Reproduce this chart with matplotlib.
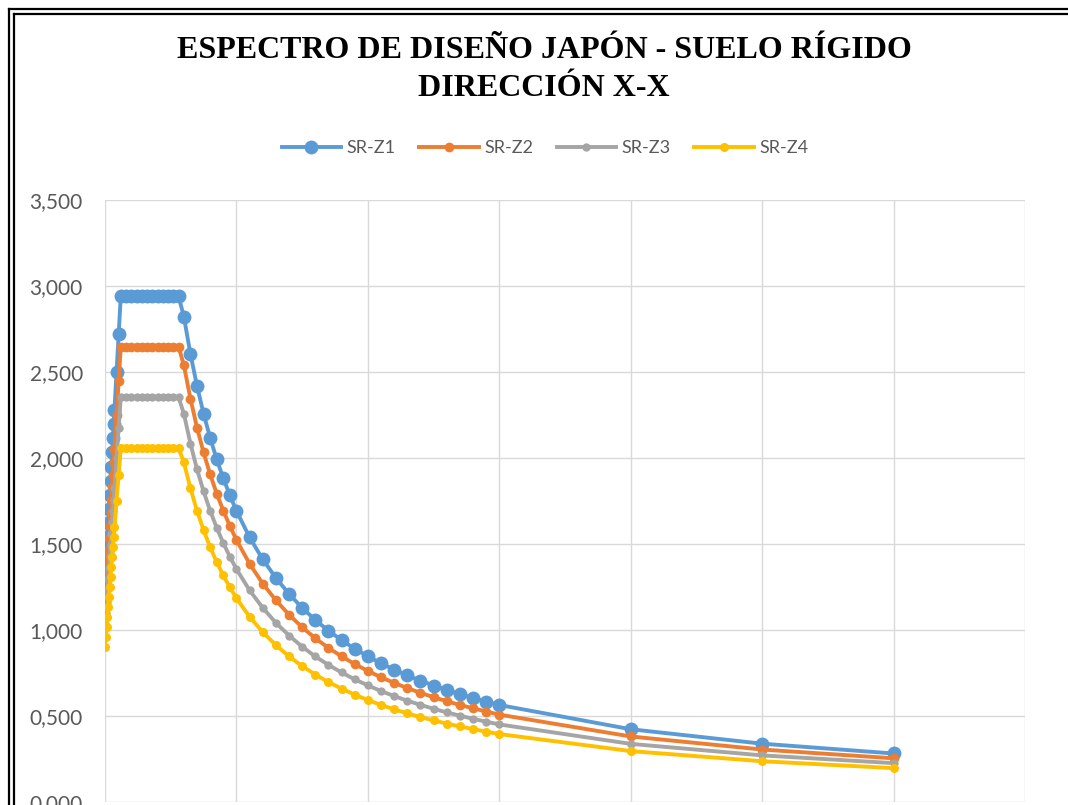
import matplotlib
matplotlib.use("Agg")
import matplotlib.pyplot as plt
from matplotlib.lines import Line2D
from matplotlib.ticker import FuncFormatter, MultipleLocator, NullFormatter

# Periodo T (s)
periodos = [
    0.000, 0.003, 0.006, 0.009, 0.012, 0.015, 0.018, 0.021, 0.024, 0.027,
    0.030, 0.033, 0.036, 0.044, 0.052, 0.060,
    0.080, 0.100, 0.120, 0.140, 0.160, 0.180, 0.200, 0.220, 0.240, 0.260, 0.280,
    0.300, 0.325, 0.350, 0.375, 0.400, 0.425, 0.450, 0.475, 0.500,
    0.550, 0.600, 0.650, 0.700, 0.750, 0.800, 0.850, 0.900, 0.950, 1.000,
    1.050, 1.100, 1.150, 1.200, 1.250, 1.300, 1.350, 1.400, 1.450, 1.500,
    2.000, 2.500, 3.000,
]

# Aceleracion espectral Sa (m/s2) por zona
sr_z1 = [
    1.290, 1.373, 1.455, 1.538, 1.620, 1.703, 1.785, 1.868, 1.950, 2.033,
    2.115, 2.198, 2.280, 2.500, 2.720, 2.940,
    2.940, 2.940, 2.940, 2.940, 2.940, 2.940, 2.940, 2.940, 2.940, 2.940, 2.940,
    2.822, 2.605, 2.419, 2.258, 2.117, 1.992, 1.882, 1.783, 1.693,
    1.539, 1.411, 1.303, 1.210, 1.129, 1.058, 0.996, 0.941, 0.891, 0.847,
    0.806, 0.770, 0.736, 0.706, 0.677, 0.651, 0.627, 0.605, 0.584, 0.564,
    0.423, 0.339, 0.282,
]
sr_z2 = [
    1.161, 1.236, 1.310, 1.384, 1.458, 1.533, 1.607, 1.681, 1.755, 1.830,
    1.904, 1.978, 2.052, 2.250, 2.448, 2.646,
    2.646, 2.646, 2.646, 2.646, 2.646, 2.646, 2.646, 2.646, 2.646, 2.646, 2.646,
    2.540, 2.345, 2.177, 2.032, 1.905, 1.793, 1.694, 1.605, 1.524,
    1.385, 1.270, 1.173, 1.089, 1.016, 0.952, 0.896, 0.847, 0.802, 0.762,
    0.725, 0.693, 0.662, 0.635, 0.609, 0.586, 0.564, 0.545, 0.526, 0.508,
    0.381, 0.305, 0.254,
]
sr_z3 = [
    1.032, 1.098, 1.164, 1.230, 1.296, 1.362, 1.428, 1.494, 1.560, 1.626,
    1.692, 1.758, 1.824, 2.000, 2.176, 2.352,
    2.352, 2.352, 2.352, 2.352, 2.352, 2.352, 2.352, 2.352, 2.352, 2.352, 2.352,
    2.258, 2.084, 1.935, 1.806, 1.694, 1.594, 1.506, 1.426, 1.354,
    1.231, 1.129, 1.042, 0.968, 0.903, 0.846, 0.797, 0.753, 0.713, 0.678,
    0.645, 0.616, 0.589, 0.565, 0.542, 0.521, 0.502, 0.484, 0.467, 0.451,
    0.338, 0.271, 0.226,
]
sr_z4 = [
    0.903, 0.961, 1.019, 1.077, 1.134, 1.192, 1.250, 1.308, 1.365, 1.423,
    1.481, 1.539, 1.596, 1.750, 1.904, 2.058,
    2.058, 2.058, 2.058, 2.058, 2.058, 2.058, 2.058, 2.058, 2.058, 2.058, 2.058,
    1.975, 1.824, 1.693, 1.581, 1.482, 1.394, 1.317, 1.248, 1.185,
    1.077, 0.988, 0.912, 0.847, 0.790, 0.741, 0.697, 0.659, 0.624, 0.593,
    0.564, 0.539, 0.515, 0.494, 0.474, 0.456, 0.439, 0.424, 0.409, 0.395,
    0.296, 0.237, 0.197,
]

series = [
    ("SR-Z1", sr_z1, "#5B9BD5", 10.0),
    ("SR-Z2", sr_z2, "#ED7D31", 7.0),
    ("SR-Z3", sr_z3, "#A5A5A5", 6.0),
    ("SR-Z4", sr_z4, "#FFC000", 6.5),
]

W, H = 1068, 805
fig = plt.figure(figsize=(W / 100, H / 100), dpi=100)
fig.patch.set_facecolor("white")

# Plot area in pixel coordinates
left, right, top, bottom = 105, 1025, 200, 802
ax = fig.add_axes([left / W, 1 - bottom / H, (right - left) / W, (bottom - top) / H])

for name, vals, color, ms in series:
    ax.plot(periodos, vals, color=color, lw=2.8, marker="o", ms=ms,
            markeredgewidth=0, label=name, solid_joinstyle="round")

ax.set_xlim(0, 3.5)
ax.set_ylim(0, 3.5)
ax.xaxis.set_major_locator(MultipleLocator(0.5))
ax.yaxis.set_major_locator(MultipleLocator(0.5))
ax.grid(True, color="#D9D9D9", lw=1.0)
ax.set_axisbelow(True)
for s in ax.spines.values():
    s.set_visible(False)
ax.tick_params(length=0, labelsize=15, colors="#595959", pad=16)
ax.yaxis.set_major_formatter(FuncFormatter(lambda v, p: f"{v:.3f}".replace(".", ",")))
ax.xaxis.set_major_formatter(NullFormatter())
for lbl in ax.get_yticklabels():
    lbl.set_fontfamily("Lato")

# Title
fig.text(544 / W, 1 - 50 / H, "ESPECTRO DE DISEÑO JAPÓN - SUELO RÍGIDO",
         ha="center", va="center", fontsize=23, fontweight="bold",
         family="Liberation Serif")
fig.text(544 / W, 1 - 88 / H, "DIRECCIÓN X-X",
         ha="center", va="center", fontsize=23, fontweight="bold",
         family="Liberation Serif")

# Legend
leg = fig.legend(loc="center", bbox_to_anchor=(545 / W, 1 - 148 / H), ncol=4,
                 frameon=False, handlelength=3.3, handletextpad=0.3,
                 columnspacing=1.3, prop={"family": "Lato", "size": 13})
for t in leg.get_texts():
    t.set_color("#595959")

# Double frame around the chart
for off in (9, 14):
    x0, y0 = off / W, 1 - off / H
    fig.add_artist(Line2D([x0, x0], [y0, -0.1], color="black", lw=1.6,
                          transform=fig.transFigure))
    fig.add_artist(Line2D([x0, 1.1], [y0, y0], color="black", lw=1.6,
                          transform=fig.transFigure))

fig.savefig("out.png", dpi=100)
